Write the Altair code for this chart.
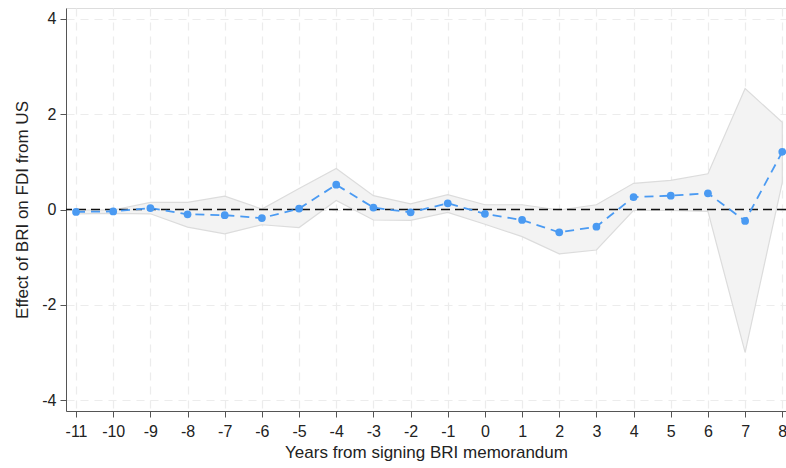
import altair as alt
import pandas as pd

years = list(range(-11, 9))
coef = [-0.05, -0.04, 0.03, -0.10, -0.12, -0.18, 0.02, 0.52, 0.04, -0.06, 0.13,
        -0.09, -0.22, -0.48, -0.36, 0.26, 0.29, 0.34, -0.24, 1.21]
upper = [-0.01, -0.01, 0.15, 0.15, 0.28, 0.01, 0.44, 0.86, 0.29, 0.12, 0.31,
         0.10, 0.10, -0.01, 0.10, 0.55, 0.61, 0.75, 2.54, 1.83]
lower = [-0.09, -0.08, -0.09, -0.37, -0.51, -0.32, -0.38, 0.19, -0.22, -0.23, -0.06,
         -0.31, -0.57, -0.93, -0.85, -0.02, -0.02, -0.04, -3.00, 0.57]

df = pd.DataFrame({"year": years, "coef": coef, "upper": upper, "lower": lower})

xscale = alt.Scale(domain=[-11.27, 8.1], nice=False, zero=False)
yscale = alt.Scale(domain=[-4.23, 4.23], nice=False)
FONT = "Liberation Sans"
BLUE = "#4a9af2"

xaxis = alt.Axis(values=years, title="Years from signing BRI memorandum",
                 labelExpr="'' + datum.value", labelOverlap=False, labelFlush=False,
                 grid=True, gridDash=[8, 6], gridColor="#ececec", gridWidth=1.2,
                 domainColor="#555555", tickColor="#555555", tickSize=6,
                 labelFontSize=16, labelColor="#222222", labelFont=FONT,
                 titleFont=FONT, titleFontSize=17, titleFontWeight="normal",
                 titleColor="#222222", titlePadding=5, labelPadding=6)
yaxis = alt.Axis(values=[-4, -2, 0, 2, 4], title="Effect of BRI on FDI from US",
                 labelExpr="'' + datum.value", labelOverlap=False,
                 grid=True, gridDash=[8, 6], gridColor="#ececec", gridWidth=1.2,
                 domainColor="#555555", tickColor="#555555", tickSize=6,
                 labelFontSize=16, labelColor="#222222", labelFont=FONT,
                 titleFont=FONT, titleFontSize=17, titleFontWeight="normal",
                 titleColor="#222222", titlePadding=10, labelPadding=4)

X = alt.X("year:Q", scale=xscale, axis=xaxis)

base = alt.Chart(df)

band = base.mark_area(fill="#f3f3f3", stroke="#dcdcdc", strokeWidth=1.2, opacity=1).encode(
    x=X,
    y=alt.Y("lower:Q", scale=yscale, axis=yaxis),
    y2="upper:Q",
)

zero = alt.Chart(pd.DataFrame({"z": [0]})).mark_rule(
    color="#111111", strokeDash=[9, 5], strokeWidth=1.3).encode(
    y=alt.Y("z:Q", scale=yscale, axis=yaxis))

line = base.mark_line(color=BLUE, strokeDash=[9, 6], strokeWidth=1.8).encode(
    x=X, y=alt.Y("coef:Q", scale=yscale, axis=yaxis))
pts = base.mark_circle(color=BLUE, size=60, opacity=1).encode(
    x=X, y=alt.Y("coef:Q", scale=yscale, axis=yaxis))

chart = alt.layer(band, zero, line, pts).properties(
    width=720, height=403,
    autosize=alt.AutoSizeParams(type="none"),
    padding={"left": 66, "top": 8, "right": 0, "bottom": 57},
).configure_view(stroke=None).configure(background="white")

chart.save("out.html", embed_options={"renderer": "svg", "actions": False})
